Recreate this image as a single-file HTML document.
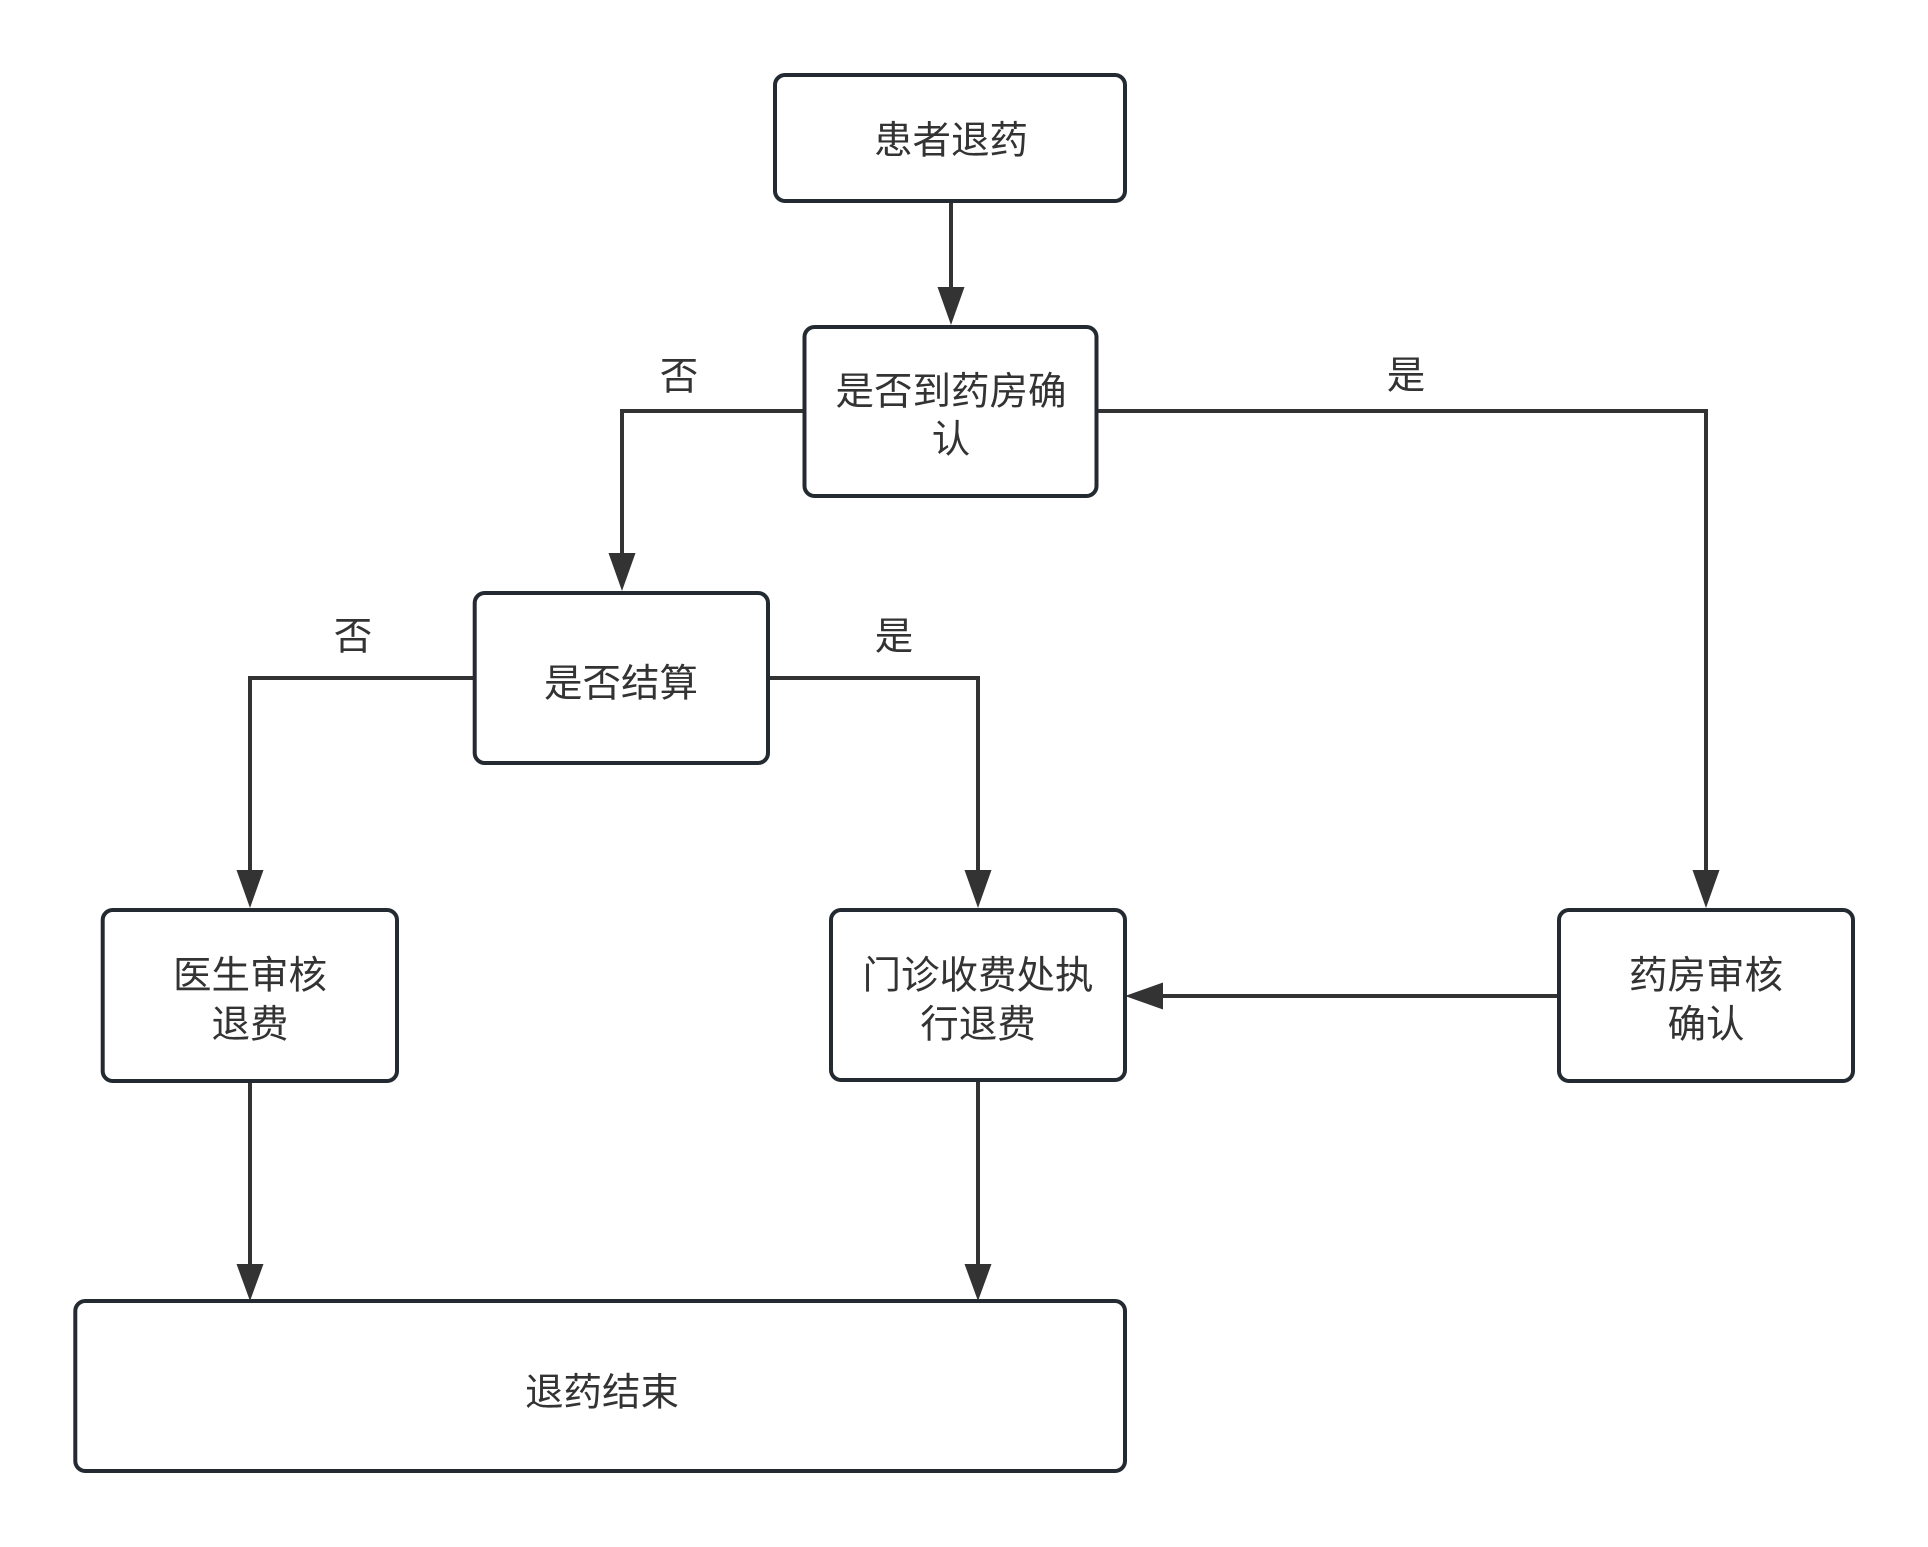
<!DOCTYPE html>
<html>
<head>
<meta charset="utf-8">
<style>
  html, body { margin: 0; padding: 0; background: #ffffff; }
  body { width: 1928px; height: 1547px; overflow: hidden; }
  svg { display: block; }
  text {
    font-family: "Liberation Sans", "Noto Sans CJK SC", "WenQuanYi Zen Hei", sans-serif;
    font-size: 38.5px;
    fill: #333333;
    text-anchor: middle;
    dominant-baseline: central;
  }
</style>
</head>
<body>
<svg width="1928" height="1547" viewBox="0 0 1928 1547" xmlns="http://www.w3.org/2000/svg">
  <rect x="0" y="0" width="1928" height="1547" fill="#ffffff"/>

  <!-- Connectors -->
  <g fill="none" stroke="#333333" stroke-width="4" stroke-linejoin="miter">
    <path d="M951 203 L951 300"/>
    <path d="M803 411 L622 411 L622 565"/>
    <path d="M1098 411 L1706 411 L1706 882"/>
    <path d="M473 678 L250 678 L250 882"/>
    <path d="M770 678 L978 678 L978 882"/>
    <path d="M1557 996 L1150 996"/>
    <path d="M250 1083 L250 1276"/>
    <path d="M978 1082 L978 1276"/>
  </g>

  <!-- Arrowheads -->
  <g fill="#333333" stroke="none">
    <polygon points="937.5,287 964.5,287 951,325"/>
    <polygon points="608.5,553 635.5,553 622,591"/>
    <polygon points="1692.5,870 1719.5,870 1706,908"/>
    <polygon points="236.5,870 263.5,870 250,908"/>
    <polygon points="964.5,870 991.5,870 978,908"/>
    <polygon points="1163,982.5 1163,1009.5 1125,996"/>
    <polygon points="236.5,1264 263.5,1264 250,1301"/>
    <polygon points="964.5,1264 991.5,1264 978,1301"/>
  </g>

  <!-- Boxes -->
  <g fill="#ffffff" stroke="#232a31" stroke-width="4">
    <rect x="775" y="75" width="350" height="126" rx="10" ry="10"/>
    <rect x="804.5" y="327" width="292" height="169" rx="10" ry="10"/>
    <rect x="474.7" y="593" width="293.3" height="170" rx="10" ry="10"/>
    <rect x="102.7" y="910" width="294.3" height="171" rx="10" ry="10"/>
    <rect x="831" y="910" width="294" height="170" rx="10" ry="10"/>
    <rect x="1559" y="910" width="294" height="171" rx="10" ry="10"/>
    <rect x="75.3" y="1301" width="1049.7" height="170" rx="10" ry="10"/>
  </g>

  <!-- Box text -->
  <text x="951" y="141">患者退药</text>
  <text x="951" y="392">是否到药房确</text>
  <text x="951" y="440">认</text>
  <text x="621" y="684">是否结算</text>
  <text x="250" y="976">医生审核</text>
  <text x="250" y="1025">退费</text>
  <text x="978" y="976">门诊收费处执</text>
  <text x="978" y="1025">行退费</text>
  <text x="1706" y="976">药房审核</text>
  <text x="1706" y="1025">确认</text>
  <text x="602" y="1393">退药结束</text>

  <!-- Edge labels -->
  <text x="679" y="377">否</text>
  <text x="1406" y="376">是</text>
  <text x="353" y="637">否</text>
  <text x="894" y="637">是</text>
</svg>
</body>
</html>
